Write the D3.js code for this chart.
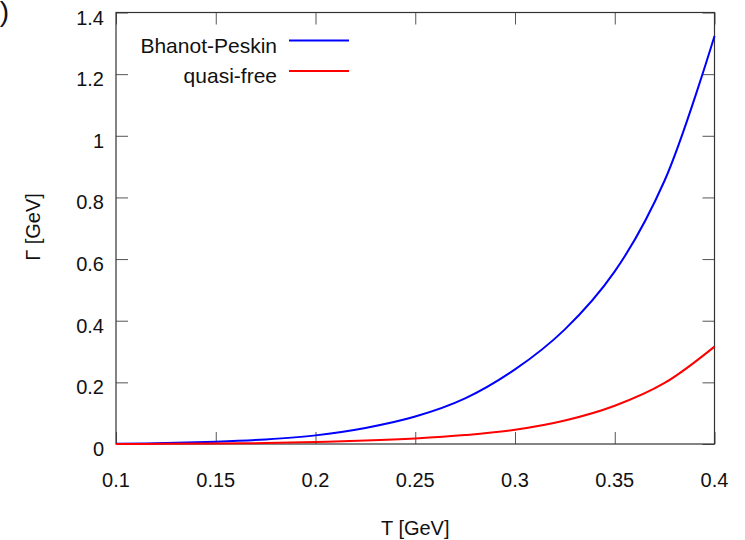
<!DOCTYPE html>
<html>
<head>
<meta charset="utf-8">
<script src="https://cdn.jsdelivr.net/npm/d3@7"></script>
<style>
  body { margin: 0; background: #fff; }
  svg text { font-family: "Liberation Sans", Arial, sans-serif; fill: #111; }
</style>
</head>
<body>
<div id="wrapper"></div>
<script>
// temperature grid
var tValues = [0.1, 0.125, 0.15, 0.175, 0.2, 0.225, 0.25, 0.275, 0.3, 0.325, 0.35, 0.375, 0.4];
var bhanotPeskin = [0.001, 0.003, 0.0075, 0.015, 0.028, 0.052, 0.089, 0.148, 0.242, 0.372, 0.56, 0.855, 1.324];
var quasiFree = [0.0, 0.0005, 0.0015, 0.003, 0.0065, 0.011, 0.018, 0.029, 0.046, 0.076, 0.124, 0.198, 0.316];
var xTicks = [0.1, 0.15, 0.2, 0.25, 0.3, 0.35, 0.4];
var yTicks = [0, 0.2, 0.4, 0.6, 0.8, 1, 1.2, 1.4];
var seriesNames = ["Bhanot-Peskin", "quasi-free"];
var seriesColors = ["#0000ff", "#ff0000"];

var dimension = {
    width: 745,
    height: 540,
    margin: { top: 12.5, left: 116, bottom: 96, right: 30.5 }
}
dimension.boundedWidth = dimension.width - dimension.margin.left - dimension.margin.right;
dimension.boundedHeight = dimension.height - dimension.margin.top - dimension.margin.bottom;

const svg = d3.select("#wrapper")
    .append("svg")
    .attr("width", dimension.width)
    .attr("height", dimension.height);

// leftover of the panel label
svg.append("text")
    .attr("x", 9)
    .attr("y", 21)
    .attr("text-anchor", "end")
    .style("font-size", "28px")
    .text(")");

const bounded = svg.append("g")
    .attr("transform", `translate(${dimension.margin.left}, ${dimension.margin.top})`);

const xScaler = d3.scaleLinear()
    .domain([0.1, 0.4])
    .range([0, dimension.boundedWidth]);
const yScaler = d3.scaleLinear()
    .domain([0, 1.4])
    .range([dimension.boundedHeight, 0]);

const tickLen = 12;
const fmt = d => String(+d.toFixed(2));

// inward ticks on all four sides
function styleAxis(g){
    g.select(".domain").remove();
    g.selectAll(".tick line").attr("stroke", "#555").attr("stroke-width", 1);
}
bounded.append("g")
    .attr("transform", `translate(0, ${dimension.boundedHeight})`)
    .call(d3.axisBottom(xScaler).tickValues(xTicks).tickSize(-tickLen).tickFormat(""))
    .call(styleAxis);
bounded.append("g")
    .call(d3.axisTop(xScaler).tickValues(xTicks).tickSize(-tickLen).tickFormat(""))
    .call(styleAxis);
bounded.append("g")
    .call(d3.axisLeft(yScaler).tickValues(yTicks).tickSize(-tickLen).tickFormat(""))
    .call(styleAxis);
bounded.append("g")
    .attr("transform", `translate(${dimension.boundedWidth}, 0)`)
    .call(d3.axisRight(yScaler).tickValues(yTicks).tickSize(-tickLen).tickFormat(""))
    .call(styleAxis);

// tick labels
bounded.append("g")
    .selectAll("text")
    .data(xTicks)
    .enter()
    .append("text")
    .attr("x", d => xScaler(d))
    .attr("y", dimension.boundedHeight + 43)
    .attr("text-anchor", "middle")
    .style("font-size", "20px")
    .text(fmt);
bounded.append("g")
    .selectAll("text")
    .data(yTicks)
    .enter()
    .append("text")
    .attr("x", -12)
    .attr("y", d => yScaler(d) + 12)
    .attr("text-anchor", "end")
    .style("font-size", "20px")
    .text(fmt);

// frame
bounded.append("rect")
    .attr("width", dimension.boundedWidth)
    .attr("height", dimension.boundedHeight)
    .attr("fill", "none")
    .attr("stroke", "#333")
    .attr("stroke-width", 1.2);

// curves
const rows = tValues.map((t, i) => ({ t: t, v: [bhanotPeskin[i], quasiFree[i]] }));
[0, 1].forEach(k => {
    bounded.append("path")
        .datum(rows)
        .attr("fill", "none")
        .attr("stroke", seriesColors[k])
        .attr("stroke-width", 2)
        .attr("d", d3.line()
            .curve(d3.curveCatmullRom)
            .x(d => xScaler(d.t))
            .y(d => yScaler(d.v[k])));
});

// legend
const legend = svg.append("g");
seriesNames.forEach((name, k) => {
    var ly = 40.5 + k * 30.5;
    legend.append("text")
        .attr("x", 277)
        .attr("y", ly + 12)
        .attr("text-anchor", "end")
        .style("font-size", "21px")
        .text(name);
    legend.append("line")
        .attr("x1", 289).attr("x2", 349)
        .attr("y1", ly).attr("y2", ly)
        .attr("stroke", seriesColors[k])
        .attr("stroke-width", 2);
});

// axis titles
svg.append("text")
    .attr("x", dimension.margin.left + dimension.boundedWidth / 2)
    .attr("y", 535)
    .attr("text-anchor", "middle")
    .style("font-size", "20px")
    .text("T [GeV]");
svg.append("text")
    .attr("transform", "translate(40, 227) rotate(-90)")
    .attr("text-anchor", "middle")
    .style("font-size", "20px")
    .text("Γ [GeV]");
</script>
</body>
</html>
